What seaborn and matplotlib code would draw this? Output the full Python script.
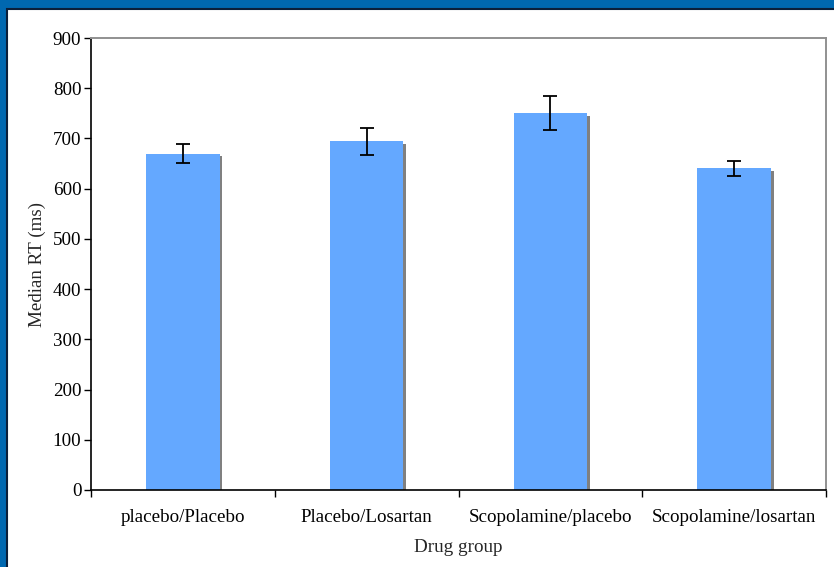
import matplotlib
matplotlib.use("Agg")
import matplotlib.pyplot as plt
import matplotlib.patheffects as pe
from matplotlib.patches import Rectangle
import pandas as pd
import seaborn as sns

# data
groups = ["placebo/Placebo", "Placebo/Losartan", "Scopolamine/placebo", "Scopolamine/losartan"]
median_rt = [670, 694, 750, 641]
rt_err = [18, 27, 34, 15]

df = pd.DataFrame({"group": groups, "rt": median_rt})

sns.set_style("white")
plt.rcParams["font.family"] = ["Liberation Serif", "DejaVu Serif"]
fs = 13.7

fig = plt.figure(figsize=(8.34, 5.67), dpi=100)
fig.patch.set_facecolor("#0068B0")

# white slide panel with dark edge, blue band on top and left
panel = Rectangle((7 / 834, -0.01), 1.0, (567 - 9) / 567 + 0.01,
                  transform=fig.transFigure, facecolor="white",
                  edgecolor="#0B1F3A", linewidth=1.5, zorder=-10)
fig.patches.append(panel)

ax = fig.add_axes([91 / 834, (567 - 490) / 567, (826 - 91) / 834, (490 - 38) / 567])
ax.set_facecolor("none")

sns.barplot(data=df, x="group", y="rt", color="#64A8FF", width=0.4,
            saturation=1, errorbar=None, ax=ax, zorder=2)
for bar in ax.patches:
    bar.set_path_effects([pe.SimplePatchShadow(offset=(2, -2), shadow_rgbFace="#808080", alpha=1),
                          pe.Normal()])
    bar.set_linewidth(0)

ax.errorbar(groups, median_rt, yerr=rt_err, fmt="none", ecolor="black",
            elinewidth=1.3, capsize=5, capthick=1.3, zorder=3)

ax.set_xlim(-0.5, 3.5)
ax.set_ylim(0, 900)
ax.set_yticks(range(0, 901, 100))
ax.set_xticks([-0.5, 0.5, 1.5, 2.5, 3.5], minor=True)
ax.tick_params(axis="x", which="major", bottom=False, length=0, labelsize=fs, pad=14)
ax.tick_params(axis="x", which="minor", bottom=True, length=5, width=1, color="black", direction="out")
ax.tick_params(axis="y", left=True, length=5, width=1, color="black", direction="out",
               labelsize=fs, pad=2)
ax.tick_params(axis="both", labelcolor="black")

for side in ["left", "bottom"]:
    ax.spines[side].set_color("black")
    ax.spines[side].set_linewidth(1.2)
for side in ["top", "right"]:
    ax.spines[side].set_visible(True)
    ax.spines[side].set_color("#909090")
    ax.spines[side].set_linewidth(1.4)

ax.set_xlabel("Drug group", fontsize=fs, labelpad=9)
ax.set_ylabel("Median RT (ms)", fontsize=fs, labelpad=5)

fig.savefig("out.png", dpi=100, facecolor=fig.get_facecolor())
